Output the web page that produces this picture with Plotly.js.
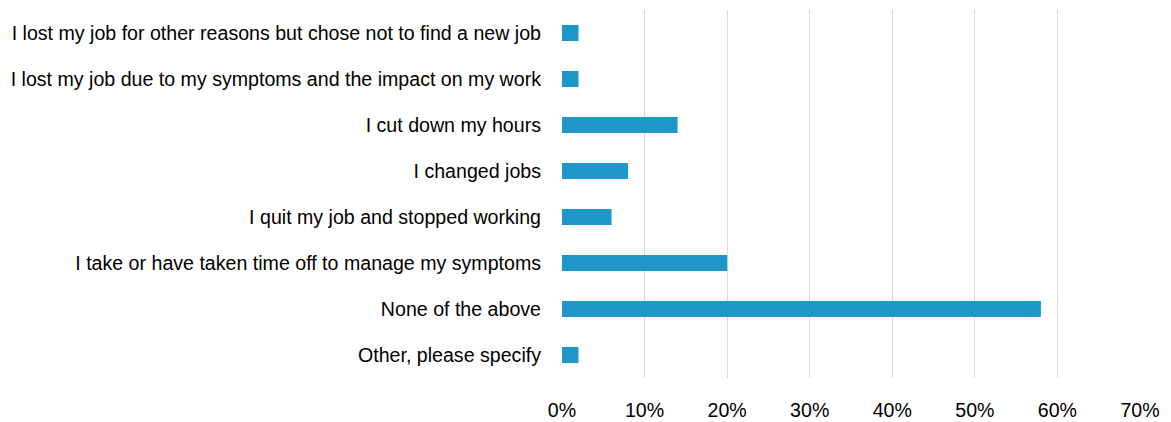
<!DOCTYPE html>
<html>
<head>
<meta charset="utf-8">
<script src="https://cdn.plot.ly/plotly-3.0.1.min.js"></script>
<style>html,body{margin:0;padding:0;background:#fff;}#chart{width:1171px;height:422px;}</style>
</head>
<body>
<div id="chart"></div>
<script>
const categories = [
  "I lost my job for other reasons but chose not to find a new job",
  "I lost my job due to my symptoms and the impact on my work",
  "I cut down my hours",
  "I changed jobs",
  "I quit my job and stopped working",
  "I take or have taken time off to manage my symptoms",
  "None of the above",
  "Other, please specify"
];
const values = [0.02, 0.02, 0.14, 0.08, 0.06, 0.20, 0.58, 0.02];
const tickVals = [0, 0.1, 0.2, 0.3, 0.4, 0.5, 0.6, 0.7];
const tickLabels = ["0%", "10%", "20%", "30%", "40%", "50%", "60%", "70%"];

const font = "'Liberation Sans Narrow', 'Arial Narrow', sans-serif";
Plotly.newPlot('chart', [{
  type: 'bar',
  orientation: 'h',
  y: categories,
  x: values,
  marker: {color: '#1f96c9'},
  hoverinfo: 'skip'
}], {
  width: 1171, height: 422,
  margin: {l: 562, r: 31, t: 10, b: 44},
  paper_bgcolor: '#fff', plot_bgcolor: '#fff',
  bargap: 0.65,
  showlegend: false,
  font: {family: font, size: 19.6, color: '#000'},
  xaxis: {
    range: [0, 0.7], tickvals: tickVals, ticktext: tickLabels,
    showgrid: true, gridcolor: '#d9d9d9', gridwidth: 1,
    zeroline: false, showline: false, ticks: '',
    ticklabelstandoff: 18, fixedrange: true
  },
  yaxis: {
    categoryorder: 'array', categoryarray: categories.slice().reverse(),
    autorange: true, showgrid: false, zeroline: false, showline: false,
    ticks: '', ticklabelstandoff: 20, fixedrange: true
  }
}, {displayModeBar: false, staticPlot: true});
</script>
</body>
</html>
